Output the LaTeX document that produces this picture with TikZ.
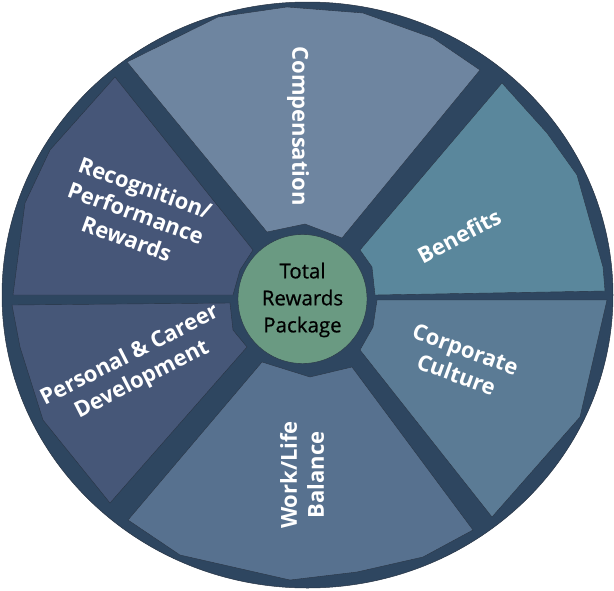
\documentclass[tikz,border=0pt]{standalone}
\usepackage{fontspec}
\setmainfont{Open Sans}
\newfontfamily\hubfont[FakeBold=0.6]{Open Sans}
\definecolor{rim}{RGB}{46,70,96}
\definecolor{edge}{RGB}{40,52,68}
\definecolor{compcol}{RGB}{110,133,160}
\definecolor{benecol}{RGB}{90,135,156}
\definecolor{corpcol}{RGB}{91,123,149}
\definecolor{workcol}{RGB}{87,113,143}
\definecolor{perscol}{RGB}{70,87,120}
\definecolor{recogcol}{RGB}{70,86,120}
\definecolor{hubcol}{RGB}{106,154,130}
\tikzset{
  sector/.style={draw=edge, line width=0.4pt, line join=round},
  sectorlabel/.style={text=white, align=center, inner sep=0pt,
    font=\fontsize{22}{27}\selectfont\bfseries},
}
\begin{document}
\begin{tikzpicture}[x=1pt, y=-1pt]
    \useasboundingbox (0,0) rectangle (614,590);
    \draw [fill=rim, draw=edge, line width=0.5pt] (307.5,295) ellipse (305.5 and 293);
    \draw [sector, fill=compcol] (127,62) -- (218,17) -- (287,7) -- (363,13) -- (433,38) -- (480,70) -- (342,238) -- (305,224) -- (267,232) -- cycle;
    \draw [sector, fill=benecol] (502,83) -- (547,133) -- (577,175) -- (603,267) -- (605,291) -- (375,295) -- (372,267) -- (360,250) -- cycle;
    \draw [sector, fill=corpcol] (377,300) -- (607,300) -- (580,417) -- (492,517) -- (360,350) -- (373,327) -- cycle;
    \draw [sector, fill=workcol] (352,367) -- (473,530) -- (423,557) -- (357,572) -- (290,580) -- (180,555) -- (128,520) -- (262,362) -- (310,377) -- cycle;
    \draw [sector, fill=perscol] (12,305) -- (230,303) -- (233,330) -- (247,347) -- (110,503) -- (43,420) -- (20,347) -- cycle;
    \draw [sector, fill=recogcol] (115,77) -- (253,250) -- (240,270) -- (233,295) -- (13,295) -- (25,203) -- (50,150) -- cycle;
    \draw [fill=hubcol, draw=edge, line width=0.4pt] (302.5,299) circle (64.5);
    \node [align=center, font=\hubfont\fontsize{20.5}{27}\selectfont] (hub) at (302.5,300) {Total\\Rewards\\Package};
    \node [sectorlabel, rotate=-90] (comp) at (298,126) {Compensation};
    \node [sectorlabel, rotate=28] (bene) at (459,236) {Benefits};
    \node [sectorlabel, rotate=-20] (corp) at (461,362) {Corporate\\Culture};
    \node [sectorlabel, rotate=90] (work) at (302,475) {Work/Life\\Balance};
    \node [sectorlabel, rotate=27] (pers) at (136,368) {Personal \& Career\\Development};
    \node [sectorlabel, rotate=-20] (recog) at (136,213) {Recognition/\\Performance\\Rewards};
\end{tikzpicture}
\end{document}
